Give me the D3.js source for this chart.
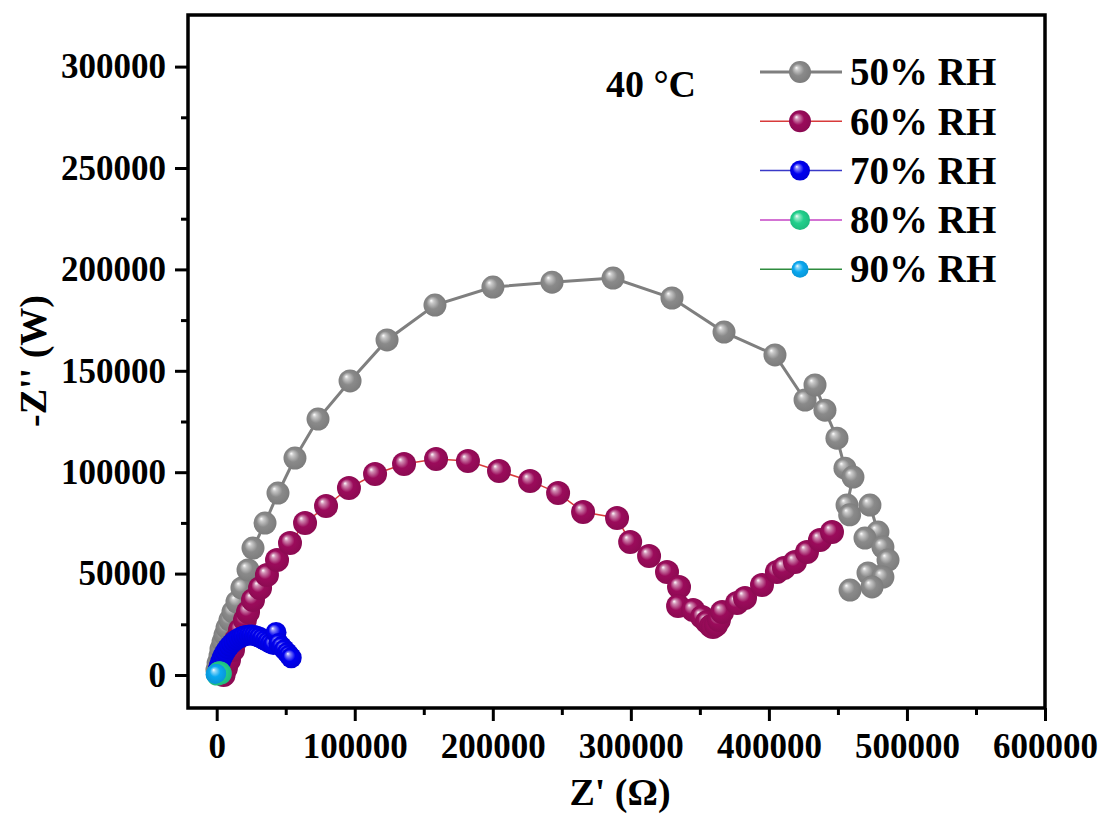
<!DOCTYPE html>
<html>
<head>
<meta charset="utf-8">
<script src="https://cdn.jsdelivr.net/npm/d3@7"></script>
<style>
  body { margin: 0; background: #fff; }
  text { font-family: "Liberation Serif", "Times New Roman", serif; font-weight: bold; fill: #000; }
</style>
</head>
<body>
<div id="chart"></div>
<script>
// Nyquist data: [Z', -Z'']
const rh50 = [
  [200, 2500], [1000, 5900], [2400, 9400], [3100, 12800], [4600, 16300], [6000, 19700],
  [7500, 23200], [9600, 27100], [11800, 31100], [14700, 36000], [18300, 42900],
  [22700, 51800], [26300, 62600], [35000, 74900], [44400, 89700], [56700, 107000],
  [73400, 126200], [96600, 145000], [123400, 165200], [158100, 182400], [200100, 191300],
  [242900, 193700], [287100, 195700], [329800, 185900], [367500, 169100], [404400, 157800],
  [426200, 135600], [433400, 143000], [440600, 130600], [449300, 116800], [455100, 102000],
  [460900, 97600], [456600, 83800], [458500, 79000], [473200, 83800], [479000, 70500],
  [469600, 67500], [482600, 63100], [486300, 56700], [471800, 50300], [482600, 48300],
  [474700, 43400], [458800, 41900]
];
const rh60 = [
  [5000, 0], [6700, 3500], [8900, 7400], [11800, 12300], [14000, 17300], [16900, 22200],
  [20500, 27100], [22700, 31100], [26300, 37000], [31400, 42900], [36400, 49300],
  [43700, 56700], [53100, 65100], [64000, 75000], [79200, 83300], [95800, 92200],
  [114700, 99100], [135700, 104000], [158900, 106500], [182000, 105500], [204500, 100600],
  [227000, 95700], [247300, 89700], [265400, 80400], [290000, 77400], [299500, 65600],
  [313200, 58700], [326200, 50800], [334900, 43400], [334200, 34000], [345100, 32100],
  [351600, 28600], [355200, 26100], [358100, 24200], [359500, 23700], [361700, 24700],
  [363800, 27100], [366100, 31100], [376900, 35500], [382700, 38000], [395000, 44400],
  [405800, 50800], [410900, 52800], [418900, 55700], [427600, 60700], [437000, 66600],
  [445700, 70500]
];
const rh70 = [
  [500, 500], [1000, 2500], [1800, 4500], [2800, 6500], [3800, 8300], [5000, 10000],
  [6300, 11600], [7700, 13000], [9200, 14300], [10800, 15500], [12500, 16500],
  [14200, 17400], [16000, 18100], [17800, 18700], [19600, 19200], [21500, 19500],
  [23400, 19700], [25300, 19700], [27200, 19500], [29100, 19100], [31000, 18600],
  [33000, 17900], [35000, 17100], [37000, 16300], [39000, 15600], [41000, 15000],
  [43000, 21000], [45000, 15500], [47000, 14000], [49000, 12500], [51000, 11000],
  [52500, 9800], [54000, 8500]
];
const rh80 = [[300, 200], [700, 500], [1100, 900], [1600, 1200], [2100, 1300], [2600, 1100], [3000, 700]];
const rh90 = [[-1200, 300], [-900, 500], [-600, 700], [-300, 800], [0, 700]];

const seriesNames = ["50% RH", "60% RH", "70% RH", "80% RH", "90% RH"];
const seriesData = [rh50, rh60, rh70, rh80, rh90];
const markerColors = ["#8a8a8a", "#9b0b5b", "#0000f0", "#22d08c", "#0aa8f0"];
const lineColors = ["#7f7f7f", "#d83a3a", "#3a3ac8", "#c545c5", "#2e8b3e"];
const lineWidths = [3, 1.5, 1.5, 1.5, 1.5];
const markerR = [11.5, 12, 10.5, 11, 9.5];
const legendR = [11, 11, 10, 10, 8.5];

const xTicks = [0, 100000, 200000, 300000, 400000, 500000, 600000];
const yTicks = [0, 50000, 100000, 150000, 200000, 250000, 300000];
const xMinor = [50000, 150000, 250000, 350000, 450000, 550000];
const yMinor = [25000, 75000, 125000, 175000, 225000, 275000];

const W = 1104, H = 818;
const margin = {top: 15, left: 188, right: 59, bottom: 110};
const w = W - margin.left - margin.right;
const h = H - margin.top - margin.bottom;

const svg = d3.select("#chart").append("svg")
  .attr("width", W).attr("height", H);

// sphere-like gradients
const defs = svg.append("defs");
markerColors.forEach((c, i) => {
  const g = defs.append("radialGradient")
    .attr("id", "ball" + i)
    .attr("cx", "0.5").attr("cy", "0.5").attr("r", "0.55")
    .attr("fx", "0.33").attr("fy", "0.3");
  g.append("stop").attr("offset", "0%").attr("stop-color", "#ffffff");
  g.append("stop").attr("offset", "16%").attr("stop-color", d3.interpolateRgb("#ffffff", c)(0.45));
  g.append("stop").attr("offset", "50%").attr("stop-color", c);
  g.append("stop").attr("offset", "100%").attr("stop-color", d3.color(c).darker(0.35));
});

const x = d3.scaleLinear().domain([-20790, 600000]).range([0, w]);
const y = d3.scaleLinear().domain([-16270, 325444]).range([h, 0]);

const g = svg.append("g").attr("transform", `translate(${margin.left},${margin.top})`);

// axes
const xAxis = g.append("g").attr("transform", `translate(0,${h})`)
  .call(d3.axisBottom(x).tickValues(xTicks).tickSize(13).tickSizeOuter(0).tickPadding(12).tickFormat(d3.format("d")));
const xAxisMinor = g.append("g").attr("transform", `translate(0,${h})`)
  .call(d3.axisBottom(x).tickValues(xMinor).tickSize(7).tickSizeOuter(0).tickFormat(""));
const yAxis = g.append("g")
  .call(d3.axisLeft(y).tickValues(yTicks).tickSize(13).tickSizeOuter(0).tickPadding(9).tickFormat(d3.format("d")));
const yAxisMinor = g.append("g")
  .call(d3.axisLeft(y).tickValues(yMinor).tickSize(7).tickSizeOuter(0).tickFormat(""));

[xAxis, xAxisMinor, yAxis, yAxisMinor].forEach(a => {
  a.select(".domain").remove();
  a.selectAll(".tick line").attr("stroke", "#000").attr("stroke-width", 3);
  a.selectAll(".tick text").style("font-size", "35px").attr("font-family", null);
});
xAxis.selectAll(".tick text").attr("dy", "0.72em");

// series
const line = d3.line().x(d => x(d[0])).y(d => y(d[1]));
const plot = g.append("g");
seriesData.forEach((data, i) => {
  plot.append("path")
    .datum(data)
    .attr("fill", "none")
    .attr("stroke", lineColors[i])
    .attr("stroke-width", lineWidths[i])
    .attr("d", line);
  plot.append("g").selectAll("circle")
    .data(data)
    .enter()
    .append("circle")
    .attr("cx", d => x(d[0]))
    .attr("cy", d => y(d[1]))
    .attr("r", markerR[i])
    .attr("fill", `url(#ball${i})`);
});

// frame
g.append("rect")
  .attr("width", w).attr("height", h)
  .attr("fill", "none").attr("stroke", "#000").attr("stroke-width", 3.5);

// legend
const legend = g.append("g").attr("transform", `translate(${760 - margin.left},${72 - margin.top})`);
seriesNames.forEach((name, i) => {
  const row = legend.append("g").attr("transform", `translate(0,${i * 49.3})`);
  row.append("line").attr("x1", 0).attr("x2", 82).attr("y1", 0).attr("y2", 0)
    .attr("stroke", lineColors[i]).attr("stroke-width", lineWidths[i]);
  row.append("circle").attr("cx", 40).attr("cy", 0).attr("r", legendR[i])
    .attr("fill", `url(#ball${i})`);
  row.append("text").attr("x", 90).attr("y", 0).attr("dy", "0.34em")
    .style("font-size", "39px").text(name);
});

// annotation
svg.append("text").attr("x", 651).attr("y", 84).attr("dy", "0.34em")
  .attr("text-anchor", "middle").style("font-size", "38px").text("40 \u00B0C");

// axis titles
svg.append("text").attr("x", 620).attr("y", 792).attr("dy", "0.34em")
  .attr("text-anchor", "middle").style("font-size", "38px").text("Z' (\u03A9)");
svg.append("text")
  .attr("transform", "translate(33,361) rotate(-90)")
  .attr("dy", "0.34em")
  .attr("text-anchor", "middle").style("font-size", "38px").text("-Z'' (W)");
</script>
</body>
</html>
